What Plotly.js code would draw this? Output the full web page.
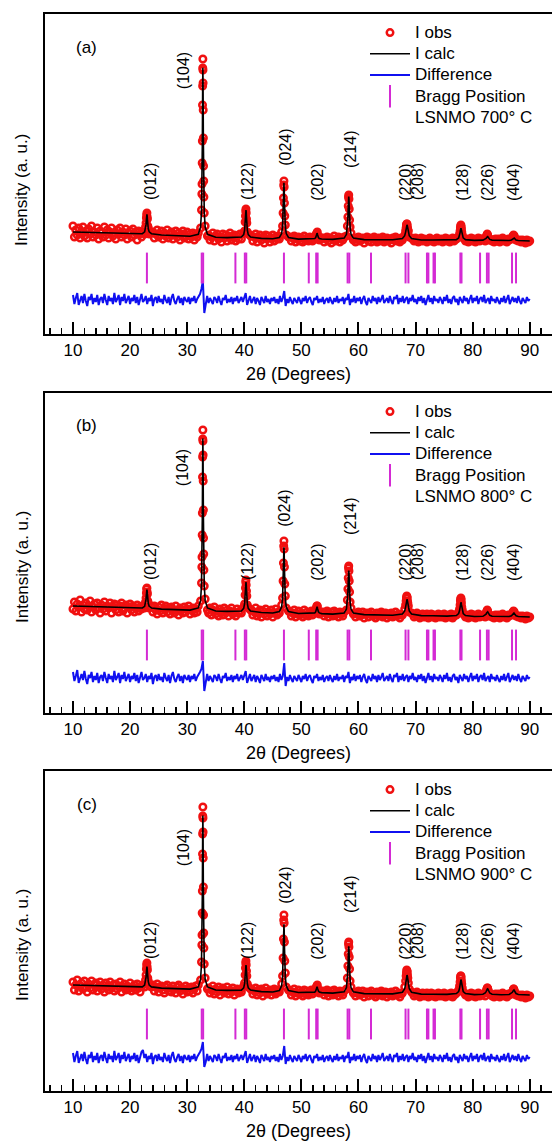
<!DOCTYPE html>
<html>
<head>
<meta charset="utf-8">
<script src="https://cdn.plot.ly/plotly-3.0.1.min.js"></script>
<style>html,body{margin:0;padding:0;background:#fff;}#chart{width:552px;height:1141px;}</style>
</head>
<body>
<div id="chart"></div>
<script>
// ---------- DATA ----------
// 2θ positions of the observed points (shared by the three patterns)
const twoThetaObs = [
10,10.25,10.5,10.75,11,11.25,11.5,11.75,12,12.25,12.5,12.75,13,13.25,13.5,13.75,14,14.25,14.5,14.75,15,15.25,15.5,15.75,16,16.25,16.5,16.75,17,17.25,17.5,17.75,18,18.25,18.5,18.75,19,19.25,19.5,19.75,20,20.25,20.5,20.75,21,21.25,21.5,21.75,22,
22.15,22.55,22.71,22.8,22.86,22.91,22.95,22.99,23.04,23.1,23.19,23.35,23.75,
24,24.25,24.5,24.75,25,25.25,25.5,25.75,26,26.25,26.5,26.75,27,27.25,27.5,27.75,28,28.25,28.5,28.75,29,29.25,29.5,29.75,30,30.25,30.5,30.75,31,31.25,31.5,31.75,
31.95,32.35,32.51,32.57,32.6,32.63,32.66,32.69,32.71,32.73,32.75,32.77,32.79,32.81,32.84,32.87,32.9,32.93,32.99,33.15,33.55,
33.75,34,34.25,34.5,34.75,35,35.25,35.5,35.75,36,36.25,36.5,36.75,37,37.25,37.5,37.75,38,38.25,38.5,38.75,39,39.25,
39.5,39.9,40.06,40.15,40.21,40.26,40.3,40.34,40.39,40.45,40.54,40.7,41.1,
41.25,41.5,41.75,42,42.25,42.5,42.75,43,43.25,43.5,43.75,44,44.25,44.5,44.75,45,45.25,45.5,45.75,46,
46.15,46.55,46.71,46.8,46.86,46.91,46.95,46.99,47.04,47.1,47.19,47.35,47.75,
48,48.25,48.5,48.75,49,49.25,49.5,49.75,50,50.25,50.5,50.75,51,51.25,51.5,51.75,
51.95,52.35,52.51,52.6,52.66,52.71,52.75,52.79,52.84,52.9,52.99,53.15,53.55,
53.75,54,54.25,54.5,54.75,55,55.25,55.5,55.75,56,56.25,56.5,56.75,57,57.25,
57.5,57.9,58.06,58.15,58.21,58.26,58.3,58.34,58.39,58.45,58.54,58.7,59.1,
59.25,59.5,59.75,60,60.25,60.5,60.75,61,61.25,61.5,61.75,62,62.25,62.5,62.75,63,63.25,63.5,63.75,64,64.25,64.5,64.75,65,65.25,65.5,65.75,66,66.25,66.5,66.75,67,67.25,67.5,
67.7,68.1,68.26,68.35,68.41,68.46,68.5,68.54,68.59,68.65,68.74,68.9,69.3,
69.5,69.75,70,70.25,70.5,70.75,71,71.25,71.5,71.75,72,72.25,72.5,72.75,73,73.25,73.5,73.75,74,74.25,74.5,74.75,75,75.25,75.5,75.75,76,76.25,76.5,76.75,77,
77.15,77.55,77.71,77.8,77.86,77.91,77.95,77.99,78.04,78.1,78.19,78.35,78.75,
79,79.25,79.5,79.75,80,80.25,80.5,80.75,81,81.25,81.5,
81.8,82.2,82.36,82.45,82.51,82.56,82.6,82.64,82.69,82.75,82.84,83,83.4,
83.5,83.75,84,84.25,84.5,84.75,85,85.25,85.5,85.75,86,86.25,
86.4,86.8,86.96,87.05,87.11,87.16,87.2,87.24,87.29,87.35,87.44,87.6,88,
88.25,88.5,88.75,89,89.25,89.5,89.75,90
];

const obsA = [
108,97,104,99,106,96,101,107,98,103,96,105,100,108,97,102,99,106,95,103,101,97,107,99,104,96,102,106,98,101,95,104,100,106,97,102,99,105,95,101,103,97,105,99,102,94,103,100,97,
102,100,107,111,116,119,121,117,115,108,106,100,101,
102,96,100,104,97,99,103,95,101,98,104,96,100,102,95,99,103,97,101,94,100,103,96,98,102,95,100,97,101,94,99,97,
101,106,124,140,150,171,193,229,248,266,275,264,251,224,196,168,153,137,121,108,98,
99,94,97,101,93,98,100,95,97,92,100,96,99,93,98,101,94,97,99,93,98,95,100,
95,101,103,112,118,123,125,121,115,111,102,100,98,
98,93,97,100,92,96,99,94,97,91,99,95,98,92,96,99,93,97,95,98,
95,102,108,121,136,149,153,147,131,118,109,99,97,
97,93,96,98,92,95,97,93,96,92,98,94,96,93,97,95,
93,97,95,99,100,101,100,102,98,96,97,94,96,
96,92,95,97,93,96,91,95,98,93,95,97,92,96,94,
97,98,108,117,128,137,139,135,125,114,107,101,94,
96,92,95,97,93,94,96,91,95,97,93,96,92,95,97,94,92,96,93,95,97,92,94,96,93,95,91,96,94,97,93,95,92,96,
94,99,103,106,109,110,110,108,106,104,103,97,96,
95,93,96,94,92,95,96,93,95,94,92,95,96,93,94,92,95,96,93,94,95,92,94,96,93,95,92,94,96,93,95,
95,97,100,103,106,108,109,107,105,102,99,96,93,
95,92,94,96,93,95,92,94,96,93,95,
95,93,96,98,99,100,99,98,97,96,94,95,93,
94,92,95,93,95,92,94,96,93,94,92,95,
94,95,97,96,98,99,98,97,98,96,95,94,93,
94,92,94,93,91,94,92,93
];

const obsB = [
104,111,102,109,106,113,101,108,104,110,103,107,112,101,106,109,103,110,105,100,108,104,111,102,107,105,110,100,106,109,103,108,101,107,110,102,105,108,100,106,109,103,107,101,105,108,102,106,104,
107,105,111,115,120,124,125,121,119,112,110,105,106,
101,107,103,99,106,102,108,100,104,107,101,105,99,106,103,100,107,102,98,105,103,100,106,101,104,107,99,103,105,100,104,101,
107,112,130,146,156,178,200,236,256,274,283,272,258,232,203,175,159,143,127,114,103,
100,105,98,103,106,99,102,97,104,101,98,105,100,103,97,102,105,99,101,97,104,100,102,
100,106,109,118,125,131,133,128,122,117,108,105,103,
103,98,101,105,97,100,103,96,102,99,104,97,101,99,103,96,100,104,98,101,
100,108,115,132,150,167,172,164,146,129,117,105,102,
101,97,100,103,96,99,102,98,100,96,103,98,101,97,100,102,
98,101,100,104,105,107,106,107,103,101,102,99,100,
101,97,100,102,96,99,101,97,102,98,100,96,101,99,97,
101,103,113,124,135,145,147,142,132,121,111,105,99,
100,96,99,101,97,98,101,95,99,100,96,99,101,97,98,95,100,97,99,101,96,98,100,95,99,97,100,96,98,101,97,99,95,98,
98,104,108,112,115,117,116,115,112,110,107,101,100,
99,96,98,100,97,95,98,99,96,98,99,95,97,99,96,98,95,97,99,96,98,96,99,95,97,98,96,99,95,97,98,
98,101,104,108,112,114,115,113,110,106,103,99,96,
98,95,97,99,96,98,95,97,99,96,97,
98,96,99,101,102,103,102,101,100,99,97,98,96,
97,95,98,96,98,95,97,99,96,97,95,98,
97,98,100,99,101,102,101,100,101,99,98,97,96,
97,95,97,96,94,97,95,96
];

const obsC = [
109,101,106,111,100,105,108,102,110,104,99,107,103,110,101,106,108,100,104,109,102,106,99,108,104,101,109,103,106,100,107,102,105,109,99,104,107,101,105,102,108,100,104,106,101,107,103,99,105,
106,104,111,116,122,126,128,124,121,113,110,105,104,
106,100,104,107,99,103,105,101,98,104,106,100,103,99,105,102,98,104,106,100,103,97,102,105,99,103,100,104,98,102,105,100,
106,111,129,146,156,178,200,237,257,275,284,273,259,233,204,176,158,143,127,113,102,
103,98,101,105,97,102,99,104,96,101,103,98,100,104,97,101,99,103,96,100,102,98,101,
99,105,108,116,123,128,130,126,120,115,107,104,102,
102,97,100,103,96,101,98,102,95,100,103,97,99,101,96,100,102,97,99,101,
99,107,115,133,152,171,176,168,149,130,118,104,101,
100,96,99,102,95,98,101,97,99,95,101,97,100,96,99,101,
97,100,99,102,104,105,104,106,102,100,101,98,99,
100,96,99,101,95,98,100,96,101,97,99,95,100,98,96,
100,102,113,125,137,147,149,144,134,122,110,104,98,
99,95,98,100,96,97,100,94,98,99,95,98,100,96,97,94,99,96,98,100,95,97,99,94,98,96,99,95,97,100,96,98,94,97,
98,104,110,115,118,121,120,119,116,113,108,102,99,
98,95,97,99,96,94,97,98,95,97,98,94,96,98,95,97,94,96,98,95,97,95,98,94,96,97,95,98,94,96,97,
98,101,105,109,113,115,115,113,110,107,103,99,96,
97,94,96,98,95,97,94,96,98,95,96,
97,95,99,101,102,103,103,102,101,100,98,97,95,
96,94,97,95,97,94,96,98,95,96,94,97,
96,97,99,100,101,102,102,101,100,99,97,96,95,
96,94,96,95,93,96,94,95
];

// 2θ knots of the calculated profiles
const twoThetaCalc = [
10,13,16,19,21,
22.15,22.55,22.71,22.8,22.86,22.91,22.95,22.99,23.04,23.1,23.19,23.35,23.75,
25.5,28,30.5,
31.95,32.35,32.51,32.6,32.66,32.71,32.75,32.79,32.84,32.9,32.99,33.15,33.55,
35,37,
39.5,39.9,40.06,40.15,40.21,40.26,40.3,40.34,40.39,40.45,40.54,40.7,41.1,
43,45,
46.15,46.55,46.71,46.8,46.86,46.91,46.95,46.99,47.04,47.1,47.19,47.35,47.75,
49.5,
51.95,52.35,52.51,52.6,52.66,52.71,52.75,52.79,52.84,52.9,52.99,53.15,53.55,
55.5,
57.5,57.9,58.06,58.15,58.21,58.26,58.3,58.34,58.39,58.45,58.54,58.7,59.1,
61,63.5,66,
67.7,68.1,68.26,68.35,68.41,68.46,68.5,68.54,68.59,68.65,68.74,68.9,69.3,
71,73,75.5,
77.15,77.55,77.71,77.8,77.86,77.91,77.95,77.99,78.04,78.1,78.19,78.35,78.75,
80.3,
81.8,82.2,82.36,82.45,82.51,82.56,82.6,82.64,82.69,82.75,82.84,83,83.4,
85,
86.4,86.8,86.96,87.05,87.11,87.16,87.2,87.24,87.29,87.35,87.44,87.6,88,
89,90
];

const calcA = [
102,101.4,101,100.4,100,
100.3,102.1,105.2,109.6,114.3,118.3,119.6,118.3,114.3,109.6,105.2,102.1,100.3,
99,98.3,97.7,
99.7,107.2,122.2,149.2,190.5,242.9,266.2,242.9,190.5,149.2,122.2,107.2,99.7,
96.7,96.4,
97,99.4,103.9,110,116.6,122.2,124,122.2,116.6,110,103.9,99.4,97,
95.6,95.3,
96.5,100.4,107.8,119.1,133,146.2,151.1,146.2,133,119.1,107.8,100.4,96.5,
94.9,
95,95.5,96.5,97.8,99.2,100.4,100.8,100.4,99.2,97.8,96.5,95.5,95,
94.6,
95.9,99.7,106.5,115.9,126,134.6,137.4,134.6,126,115.9,106.5,99.7,95.9,
94.4,94.3,94.2,
95.4,98.3,101.9,105.1,107.4,108.7,109.1,108.7,107.4,105.1,101.9,98.3,95.4,
94,94,93.8,
94.4,96.1,98.6,101.4,103.7,105.2,105.7,105.2,103.7,101.4,98.6,96.1,94.4,
93.6,
93.9,94.6,95.6,96.4,97,97.4,97.5,97.4,97,96.4,95.6,94.6,93.9,
93.3,
93.5,94,94.8,95.4,95.9,96.1,96.2,96.1,95.9,95.4,94.8,94,93.5,
93.1,93
];

const calcB = [
107,106.4,105.8,105.2,104.8,
105,106.7,109.7,113.9,118.4,122.1,123.4,122.1,118.4,113.9,109.7,106.7,105,
103.9,103.4,102.9,
105.1,112.6,128,155.5,197.4,250.8,274.5,250.8,197.4,155.5,128,112.6,105.1,
102,101.6,
102,104.7,109.4,116,123,129,131,129,123,116,109.4,104.7,102,
100.5,100,
101.5,106.1,114.8,128.1,144.4,160.1,165.8,160.1,144.4,128.1,114.8,106.1,101.5,
99.5,
99.4,100.1,101.2,102.7,104.3,105.7,106.2,105.7,104.3,102.7,101.2,100.1,99.4,
98.9,
100,103.9,110.9,120.5,130.8,139.6,142.5,139.6,130.8,120.5,110.9,103.9,100,
98.4,98.1,97.8,
99,102.1,105.9,109.4,111.8,113.2,113.6,113.2,111.8,109.4,105.9,102.1,99,
97.4,97.2,96.9,
97.5,99.5,102.4,105.7,108.3,110.2,110.7,110.2,108.3,105.7,102.4,99.5,97.5,
96.5,
96.7,97.7,98.9,100,100.7,101.2,101.3,101.2,100.7,100,98.9,97.7,96.7,
96.2,
96.5,97.2,98.2,99,99.6,100,100.1,100,99.6,99,98.2,97.2,96.5,
96,96
];

const calcC = [
106,105.4,104.8,104.2,103.8,
104.1,106,109.3,113.9,118.8,123,124.4,123,118.8,113.9,109.3,106,104.1,
102.9,102.4,101.9,
104.1,111.8,127.3,155.1,197.5,251.5,275.5,251.5,197.5,155.1,127.3,111.8,104.1,
101,100.6,
100.9,103.2,107.3,113,119.1,124.3,126,124.3,119.1,113,107.3,103.2,100.9,
99.4,99,
100.5,105.3,114.2,128,144.8,160.9,166.8,160.9,144.8,128,114.2,105.3,100.5,
98.5,
98.4,98.9,99.9,101.2,102.6,103.8,104.2,103.8,102.6,101.2,99.9,98.9,98.4,
97.9,
99.2,103.4,110.8,121.1,132.1,141.5,144.6,141.5,132.1,121.1,110.8,103.4,99.2,
97.4,97.2,97.1,
98.7,102.3,106.9,111,113.8,115.5,116,115.5,113.8,111,106.9,102.3,98.7,
96.9,96.8,96.6,
97.4,99.5,102.7,106.1,109,110.9,111.5,110.9,109,106.1,102.7,99.5,97.4,
96.4,
96.8,98,99.4,100.7,101.6,102.2,102.3,102.2,101.6,100.7,99.4,98,96.8,
96.2,
96.5,97.5,98.7,99.8,100.5,101,101.1,101,100.5,99.8,98.7,97.5,96.5,
96,96
];

// Difference curves (Iobs - Icalc, offset), sampled every 0.25° from 10° to 90°
const diffStart = 10, diffStep = 0.25;
const diffA = [
39,30,36,41,29,35,38,31,40,33,28,37,34,40,30,36,32,39,29,35,
37,31,40,34,29,38,33,36,30,41,32,35,39,29,37,33,40,31,35,38,
30,36,33,39,31,37,29,35,40,32,34,38,30,36,33,39,28,35,37,31,
38,32,35,30,39,34,31,37,29,36,40,33,30,35,38,31,36,29,37,34,
32,37,30,36,33,38,31,35,37,40,45,53,21,28,38,31,36,33,30,37,
35,31,38,33,29,36,34,39,31,35,32,37,30,36,33,38,31,34,37,32,
36,41,29,35,38,31,34,37,30,36,33,29,37,34,31,38,32,35,30,36,
33,37,31,35,30,38,32,36,43,28,35,31,37,33,30,36,34,31,37,33,
30,36,33,38,31,35,37,32,29,36,34,38,31,35,32,37,30,34,36,31,
37,33,30,36,32,38,31,35,33,37,30,36,34,40,29,35,32,38,31,36,
33,37,30,35,38,32,29,36,34,31,38,33,36,30,37,32,35,39,31,34,
36,31,38,33,30,37,35,39,30,36,32,38,31,35,37,30,36,33,39,32,
35,30,37,33,38,31,36,29,35,39,32,36,30,38,33,35,31,37,34,30,
37,33,39,31,35,30,36,38,32,35,29,37,34,31,38,33,36,30,35,39,
31,36,33,38,30,35,37,32,39,31,34,36,30,38,33,35,31,37,33,30,
36,32,38,31,35,39,30,34,37,32,36,31,38,33,30,36,34,31,37,33,
35
];
const diffB = [
41,32,37,43,30,36,39,33,42,34,29,38,35,41,31,37,33,40,30,36,
38,32,41,35,30,39,34,37,31,42,33,36,40,30,38,34,41,32,36,39,
31,37,34,40,32,38,30,36,41,33,35,39,31,37,34,40,29,36,38,32,
39,33,36,31,40,35,32,38,30,37,41,34,31,36,39,32,37,30,38,35,
33,38,31,37,34,39,32,36,38,41,44,52,22,30,39,32,37,34,31,38,
36,32,39,34,30,37,35,40,32,36,33,38,31,37,34,39,32,35,38,33,
37,42,30,36,39,32,35,38,31,37,34,30,38,35,32,39,33,36,31,37,
34,38,32,36,31,39,33,37,50,27,36,32,38,34,31,37,35,32,38,34,
31,37,34,39,32,36,38,33,30,37,35,39,32,36,33,38,31,35,37,32,
38,34,31,37,33,39,32,36,34,38,31,37,35,41,30,36,33,39,32,37,
34,38,31,36,39,33,30,37,35,32,39,34,37,31,38,33,36,40,32,35,
37,32,39,34,31,38,36,40,31,37,33,39,32,36,38,31,37,34,40,33,
36,31,38,34,39,32,37,30,36,40,33,37,31,39,34,36,32,38,35,31,
38,34,40,32,36,31,37,39,33,36,30,38,35,32,39,34,37,31,36,40,
32,37,34,39,31,36,38,33,40,32,35,37,31,39,34,36,32,38,34,31,
37,33,39,32,36,40,31,35,38,33,37,32,39,34,31,37,35,32,38,34,
36
];
const diffC = [
38,29,35,40,28,34,37,30,39,32,27,36,33,39,29,35,31,38,28,34,
36,30,39,33,28,37,32,35,29,40,31,34,38,28,36,32,39,30,34,37,
29,35,32,38,30,36,28,34,39,41,33,37,29,35,32,38,27,34,36,30,
37,31,34,29,38,33,30,36,28,35,39,32,29,34,37,30,35,28,36,33,
31,36,29,35,32,37,30,34,36,39,42,49,24,29,37,30,35,32,29,36,
34,30,37,32,28,35,33,38,30,34,31,36,29,35,32,37,30,33,36,31,
35,40,28,34,37,30,33,36,29,35,32,28,36,33,30,37,31,34,29,35,
32,36,30,34,29,37,31,35,45,27,34,30,36,32,29,35,33,30,36,32,
29,35,32,37,30,34,36,31,28,35,33,37,30,34,31,36,29,33,35,30,
36,32,29,35,31,37,30,34,32,36,29,35,33,39,28,34,31,37,30,35,
32,36,29,34,37,31,28,35,33,30,37,32,35,29,36,31,34,38,30,33,
35,30,37,32,29,36,34,38,29,35,31,37,30,34,36,29,35,32,38,31,
34,29,36,32,37,30,35,28,34,38,31,35,29,37,32,34,30,36,33,29,
36,32,38,30,34,29,35,37,31,34,28,36,33,30,37,32,35,29,34,38,
30,35,32,37,29,34,36,31,38,30,33,35,29,37,32,34,30,36,32,29,
35,31,37,30,34,38,29,33,36,31,35,30,37,32,29,35,33,30,36,32,
34
];

// Bragg reflection positions (2θ)
const braggPos = [22.95,32.55,32.8,38.45,40.1,40.35,46.95,51.3,52.6,52.85,58.1,58.4,62.2,
  68.25,68.75,72.0,72.25,73.15,73.4,77.85,78.05,81.3,82.5,82.8,86.9,87.6];

// Miller-index labels
const hklLabels = ['(012)','(104)','(122)','(024)','(202)','(214)','(220)','(208)','(128)','(226)','(404)'];
const hklX = [23.5,29.3,40.5,47.1,52.7,58.5,68.1,70.3,78.1,82.5,87.05];
const hklYA = [152,263,152,187,152,185,152,152,152,152,152];
const hklYB = [151,245,151,205,151,197,151,151,151,151,151];
const hklYC = [150,243,150,206,150,197,150,150,150,150,150];

const panelNames = ['(a)','(b)','(c)'];
const sampleNames = ['LSNMO 700° C','LSNMO 800° C','LSNMO 900° C'];

// ---------- STYLE / LAYOUT ----------
const FONT = 'Liberation Sans, Arial, Helvetica, sans-serif';
const W = 552, H = 1141;
const axisBottomPx = [334, 713, 1091];
const panelHeightPx = 320;
const plotLeftPx = 45;

const obsSets = [obsA, obsB, obsC];
const calcSets = [calcA, calcB, calcC];
const diffSets = [diffA, diffB, diffC];
const hklYSets = [hklYA, hklYB, hklYC];
const braggOffset = [66, 68, 67];
const yTitleCenterPx = [190, 567, 945];

function big(t){ return '<span style="font-size:17px">' + t + '</span>'; }

const traces = [];
const layout = {
  width: W, height: H,
  margin: {l:0, r:0, t:0, b:0},
  paper_bgcolor: '#ffffff', plot_bgcolor: '#ffffff',
  font: {family: FONT, size: 17, color: '#000'},
  showlegend: true,
  annotations: []
};

for (let p = 0; p < 3; p++) {
  const sfx = p === 0 ? '' : String(p + 1);
  const xa = 'x' + sfx, ya = 'y' + sfx;
  const lg = 'legend' + sfx;
  traces.push({
    type: 'scatter', mode: 'markers', name: big('I obs'), legend: lg,
    x: twoThetaObs, y: obsSets[p], xaxis: xa, yaxis: ya,
    marker: {symbol: 'circle-open', size: 6.5, color: '#f01010', line: {width: 2.5, color: '#f01010'}}
  });
  traces.push({
    type: 'scatter', mode: 'lines', name: big('I calc'), legend: lg,
    x: twoThetaCalc, y: calcSets[p], xaxis: xa, yaxis: ya,
    line: {color: '#000000', width: 1.6}
  });
  traces.push({
    type: 'scatter', mode: 'lines', name: big('Difference'), legend: lg,
    x0: diffStart, dx: diffStep, y: diffSets[p], xaxis: xa, yaxis: ya,
    line: {color: '#1010f0', width: 2}
  });
  traces.push({
    type: 'scatter', mode: 'markers', name: big('Bragg Position'), legend: lg,
    x: braggPos, y: braggPos.map(() => braggOffset[p]), xaxis: xa, yaxis: ya,
    marker: {symbol: 'line-ns-open', size: 22, color: '#d42ad4', line: {width: 2, color: '#d42ad4'}}
  });
  traces.push({
    type: 'scatter', mode: 'lines', name: big(sampleNames[p]), legend: lg,
    x: [null], y: [null], xaxis: xa, yaxis: ya,
    line: {color: 'rgba(0,0,0,0)', width: 0}
  });

  const bottom = (H - axisBottomPx[p]) / H;
  const top = (H - axisBottomPx[p] + panelHeightPx) / H;
  layout['xaxis' + sfx] = {
    domain: [plotLeftPx / W, 1], anchor: ya, range: [5.1, 93.9],
    tick0: 10, dtick: 10, ticks: 'inside', ticklen: 12, tickwidth: 2, tickcolor: '#000',
    minor: {dtick: 2, tick0: 0, ticks: 'inside', ticklen: 6, tickwidth: 1.5, tickcolor: '#000', showgrid: false},
    showline: true, linewidth: 2, linecolor: '#000', mirror: true,
    showgrid: false, zeroline: false,
    tickfont: {family: FONT, size: 17, color: '#000'},
    title: {text: '2θ (Degrees)', font: {family: FONT, size: 18, color: '#000'}, standoff: 8}
  };
  layout['yaxis' + sfx] = {
    domain: [bottom, top], anchor: xa, range: [0, panelHeightPx],
    showline: true, linewidth: 2, linecolor: '#000', mirror: false,
    ticks: '', showticklabels: false, showgrid: false, zeroline: false
  };
  layout[lg] = {
    x: 365 / W, xanchor: 'left',
    y: (H - axisBottomPx[p] + panelHeightPx - 3) / H, yanchor: 'top',
    bgcolor: 'rgba(0,0,0,0)', borderwidth: 0,
    font: {family: FONT, size: 14, color: '#000'},
    itemwidth: 40, tracegroupgap: 0
  };
  layout.annotations.push({
    xref: xa, yref: ya, x: 12.45, y: 287, text: panelNames[p], showarrow: false,
    font: {family: FONT, size: 17, color: '#000'}, xanchor: 'center', yanchor: 'middle'
  });
  for (let k = 0; k < hklLabels.length; k++) {
    layout.annotations.push({
      xref: xa, yref: ya, x: hklX[k], y: hklYSets[p][k], text: hklLabels[k], showarrow: false,
      textangle: -90, font: {family: FONT, size: 16, color: '#000'}, xanchor: 'center', yanchor: 'middle'
    });
  }
  layout.annotations.push({
    xref: 'paper', yref: 'paper', x: 22 / W, y: 1 - yTitleCenterPx[p] / H,
    text: 'Intensity (a. u.)', showarrow: false, textangle: -90,
    font: {family: FONT, size: 17, color: '#000'}, xanchor: 'center', yanchor: 'middle'
  });
}

Plotly.newPlot('chart', traces, layout, {displayModeBar: false, staticPlot: true});
</script>
</body>
</html>
